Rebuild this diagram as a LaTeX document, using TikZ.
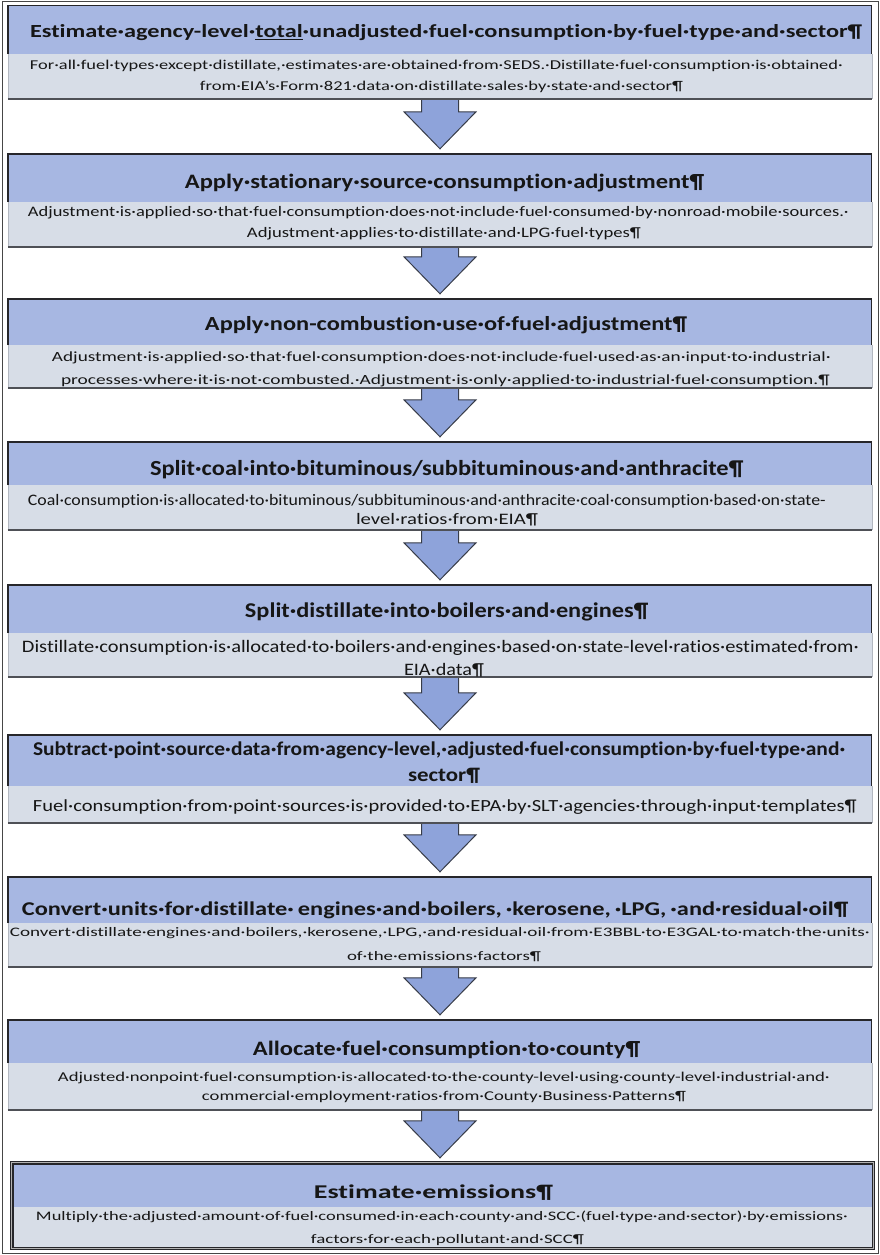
\documentclass[tikz,border=0pt]{standalone}
\usepackage{fontspec}
\setmainfont{Carlito}[Ligatures={NoCommon,NoRequired,NoContextual}, Contextuals=NoAlternate, RawFeature=-calt]
\usepackage{graphicx}
\usetikzlibrary{calc,fit,backgrounds}
\XeTeXinterchartokenstate=1
\XeTeXcharclass`t=201
\XeTeXcharclass`i=202
\XeTeXinterchartoks 201 202 = {\kern0pt}
\definecolor{hdrc}{RGB}{167,183,226}
\definecolor{bodyc}{RGB}{215,221,231}
\definecolor{arrowc}{RGB}{142,163,218}
\definecolor{arrowline}{RGB}{55,60,72}
\definecolor{rimc}{RGB}{38,38,42}
\definecolor{bottomc}{RGB}{78,80,86}
\definecolor{lightc}{RGB}{178,183,192}
\definecolor{framec}{RGB}{70,70,70}
\definecolor{txtc}{RGB}{22,22,22}
\tikzset{
  hdrfill/.style={fill=hdrc, draw=none, inner sep=0pt},
  bodyfill/.style={fill=bodyc, draw=none, inner sep=0pt},
  rim/.style={draw=rimc, line width=1.4pt},
  bottomrim/.style={draw=bottomc, line width=1.6pt},
  lightrim/.style={draw=lightc, line width=0.6pt},
  arrowst/.style={fill=arrowc, draw=arrowline, line width=1pt, line join=miter},
  framest/.style={draw=framec, line width=1pt},
  txt/.style={anchor=base, inner sep=0pt, text=txtc}
}
\newcommand\stage[6]{%
  \node[bodyfill, fit={(#5,#3) (#6+1,#4)}] (b#1) {};
  \node[hdrfill, fit={(#5,#2) (#6,#3)}] (h#1) {};
  \draw[lightrim] (b#1.north west) -- (b#1.south west) (b#1.north east) -- (b#1.south east);
  \draw[bottomrim] (b#1.south west) -- (b#1.south east);
  \draw[rim] (h#1.south west) -- (h#1.north west) -- (h#1.north east) -- (h#1.south east);
}
\newcommand\flowarrow[3]{%
  \path (#2.south |- #3.north) coordinate (tb#1);
  \coordinate (tip#1) at ($(tb#1)+(0,-5)$);
  \begin{pgfonlayer}{background}
  \filldraw[arrowst] ($(#2.south)+(-18.5,-2)$) -- ($(tip#1)+(-18.5,-37)$) -- ($(tip#1)+(-36,-37)$) -- (tip#1) -- ($(tip#1)+(36,-37)$) -- ($(tip#1)+(18.5,-37)$) -- ($(#2.south)+(18.5,-2)$);
  \end{pgfonlayer}
}
\newcommand\tline[7]{%
  \node[txt, font=\fontsize{#5}{#5}\selectfont#6] (#1) at (#2,#3) {\resizebox{#4pt}{\height}{#7}};
}
\begin{document}
\begin{tikzpicture}[x=1pt,y=-1pt]
\useasboundingbox (0,0) rectangle (880,1255);
\begin{pgfonlayer}{background}
\fill[white] (0,0) rectangle (880,1255);
\end{pgfonlayer}
\draw[framest] (2,2) rectangle (878,1253);

\stage{1}{6}{54}{99}{8}{871}
\stage{2}{154}{202}{247}{8}{871}
\stage{3}{299}{345}{388}{8}{871}
\stage{4}{442}{485}{530}{8}{871}
\stage{5}{585}{633}{677}{8}{871}
\stage{6}{735}{786}{823}{8}{871}
\stage{7}{877}{923}{967}{8}{871}
\stage{8}{1020}{1063}{1110}{8}{871}
\stage{9}{1163}{1207}{1248}{12}{872}
\draw[draw=rimc, line width=1.2pt, double=gray!60, double distance=1pt] (h9.north west) rectangle (b9.south east);

\flowarrow{1}{b1}{h2}
\flowarrow{2}{b2}{h3}
\flowarrow{3}{b3}{h4}
\flowarrow{4}{b4}{h5}
\flowarrow{5}{b5}{h6}
\flowarrow{6}{b6}{h7}
\flowarrow{7}{b7}{h8}
\flowarrow{8}{b8}{h9}

\tline{t1h}{446}{38}{832}{18.5}{\bfseries}{Estimate·agency-level·\underline{total}·unadjusted·fuel·consumption·by·fuel·type·and·sector¶}
\tline{t1a}{436.5}{69.3}{813}{13.5}{}{For·all·fuel·types·except·distillate,·estimates·are·obtained·from·SEDS.·Distillate·fuel·consumption·is·obtained·}
\tline{t1b}{441.5}{90.7}{483}{13.5}{}{from·EIA’s·Form·821·data·on·distillate·sales·by·state·and·sector¶}

\tline{t2h}{444.5}{188}{519}{20.5}{\bfseries}{Apply·stationary·source·consumption·adjustment¶}
\tline{t2a}{438.5}{216.7}{821}{14.5}{}{Adjustment·is·applied·so·that·fuel·consumption·does·not·include·fuel·consumed·by·nonroad·mobile·sources.·}
\tline{t2b}{444}{237.3}{394}{14.5}{}{Adjustment·applies·to·distillate·and·LPG·fuel·types¶}

\tline{t3h}{446}{330}{482}{20}{\bfseries}{Apply·non-combustion·use·of·fuel·adjustment¶}
\tline{t3a}{441.5}{361.7}{779}{14}{}{Adjustment·is·applied·so·that·fuel·consumption·does·not·include·fuel·used·as·an·input·to·industrial·}
\tline{t3b}{445.5}{384}{769}{14}{}{processes·where·it·is·not·combusted.·Adjustment·is·only·applied·to·industrial·fuel·consumption.¶}

\tline{t4h}{446.5}{475}{593}{21.5}{\bfseries}{Split·coal·into·bituminous/subbituminous·and·anthracite¶}
\tline{t4a}{427}{505}{798}{16}{}{Coal·consumption·is·allocated·to·bituminous/subbituminous·and·anthracite·coal·consumption·based·on·state-}
\tline{t4b}{447}{524}{182}{16}{}{level·ratios·from·EIA¶}

\tline{t5h}{446.5}{617}{403}{21}{\bfseries}{Split·distillate·into·boilers·and·engines¶}
\tline{t5a}{440.5}{652}{837}{17.5}{}{Distillate·consumption·is·allocated·to·boilers·and·engines·based·on·state-level·ratios·estimated·from·}
\tline{t5b}{444}{675}{80}{17.5}{}{EIA·data¶}

\tline{t6h}{439}{755}{812}{19.5}{\bfseries}{Subtract·point·source·data·from·agency-level,·adjusted·fuel·consumption·by·fuel·type·and·}
\tline{t6i}{444}{781.7}{72}{19.5}{\bfseries}{sector¶}
\tline{t6a}{445}{811.7}{824}{17}{}{Fuel·consumption·from·point·sources·is·provided·to·EPA·by·SLT·agencies·through·input·templates¶}

\tline{t7h}{435}{915}{826}{19.5}{\bfseries}{Convert·units·for·distillate·\,engines·and·boilers,\,·kerosene,\,·LPG,\,·and·residual·oil¶}
\tline{t7a}{440}{936}{860}{13}{}{Convert·distillate·engines·and·boilers,·kerosene,·LPG,·and·residual·oil·from·E3BBL·to·E3GAL·to·match·the·units·}
\tline{t7b}{444}{960}{194}{13}{}{of·the·emissions·factors¶}

\tline{t8h}{446.5}{1055}{387}{20.5}{\bfseries}{Allocate·fuel·consumption·to·county¶}
\tline{t8a}{444}{1081.5}{772}{13.5}{}{Adjusted·nonpoint·fuel·consumption·is·allocated·to·the·county-level·using·county-level·industrial·and·}
\tline{t8b}{444}{1100.5}{484}{13.5}{}{commercial·employment·ratios·from·County·Business·Patterns¶}

\tline{t9h}{433.5}{1198}{239}{19.5}{\bfseries}{Estimate·emissions¶}
\tline{t9a}{442}{1220}{812}{13}{}{Multiply·the·adjusted·amount·of·fuel·consumed·in·each·county·and·SCC·(fuel·type·and·sector)·by·emissions·}
\tline{t9b}{447.5}{1243}{273}{13}{}{factors·for·each·pollutant·and·SCC¶}
\end{tikzpicture}
\end{document}
